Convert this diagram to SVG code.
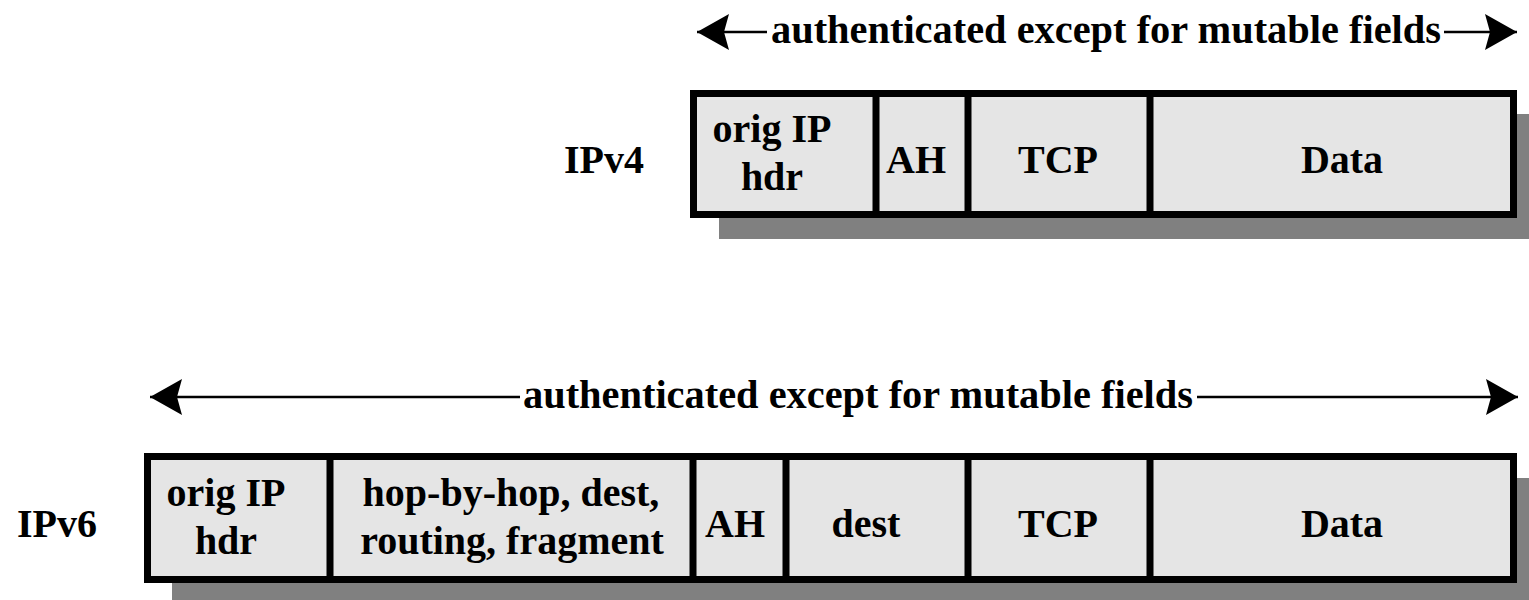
<svg xmlns="http://www.w3.org/2000/svg" width="1529" height="600" viewBox="0 0 1529 600">
<defs>
<style>
text{font-family:"Liberation Serif","Times New Roman",serif;font-weight:bold;font-size:40px;fill:#000;text-anchor:middle}
.shadow{fill:#808080}
.box{fill:#e5e5e5;stroke:#000;stroke-width:7}
.div{stroke:#000;stroke-width:7}
.arr{stroke:#000;stroke-width:2.5;fill:none}
</style>
<marker id="ah" markerUnits="userSpaceOnUse" markerWidth="34" markerHeight="38" viewBox="0 0 34 38" refX="32" refY="19" orient="auto-start-reverse">
<path d="M0,1 L32,19 L0,37 L5,19 Z" fill="#000"/>
</marker>
</defs>
<rect width="1529" height="600" fill="#fff"/>

<g id="connectors">
<line class="arr" x1="697" y1="32" x2="767" y2="32" marker-start="url(#ah)"/>
<line class="arr" x1="1444" y1="32" x2="1517" y2="32" marker-end="url(#ah)"/>
<text x="1106" y="43" textLength="670" lengthAdjust="spacingAndGlyphs">authenticated except for mutable fields</text>
<line class="arr" x1="150" y1="397" x2="520" y2="397" marker-start="url(#ah)"/>
<line class="arr" x1="1197" y1="397" x2="1518" y2="397" marker-end="url(#ah)"/>
<text x="858" y="408" textLength="670" lengthAdjust="spacingAndGlyphs">authenticated except for mutable fields</text>
</g>

<g id="ipv4">
<text x="604" y="173">IPv4</text>
<rect class="shadow" x="719" y="114" width="830" height="125"/>
<rect class="box" x="693.5" y="93.5" width="820" height="121"/>
<line class="div" x1="876" y1="90" x2="876" y2="218"/>
<line class="div" x1="968" y1="90" x2="968" y2="218"/>
<line class="div" x1="1150" y1="90" x2="1150" y2="218"/>
<g id="v4-orig"><text x="772" y="142">orig IP</text><text x="772" y="190">hdr</text></g>
<g id="v4-ah"><text x="916" y="173">AH</text></g>
<g id="v4-tcp"><text x="1058" y="173">TCP</text></g>
<g id="v4-data"><text x="1342" y="173">Data</text></g>
</g>

<g id="ipv6">
<text x="57" y="537">IPv6</text>
<rect class="shadow" x="172" y="478" width="1377" height="130"/>
<rect class="box" x="147.5" y="456.5" width="1366" height="123"/>
<line class="div" x1="330" y1="453" x2="330" y2="583"/>
<line class="div" x1="693" y1="453" x2="693" y2="583"/>
<line class="div" x1="786" y1="453" x2="786" y2="583"/>
<line class="div" x1="968" y1="453" x2="968" y2="583"/>
<line class="div" x1="1150" y1="453" x2="1150" y2="583"/>
<g id="v6-orig"><text x="226" y="506">orig IP</text><text x="226" y="554">hdr</text></g>
<g id="v6-ext"><text x="511" y="506">hop-by-hop, dest,</text><text x="512" y="554">routing, fragment</text></g>
<g id="v6-ah"><text x="735" y="537">AH</text></g>
<g id="v6-dest"><text x="866" y="537">dest</text></g>
<g id="v6-tcp"><text x="1058" y="537">TCP</text></g>
<g id="v6-data"><text x="1342" y="537">Data</text></g>
</g>
</svg>
